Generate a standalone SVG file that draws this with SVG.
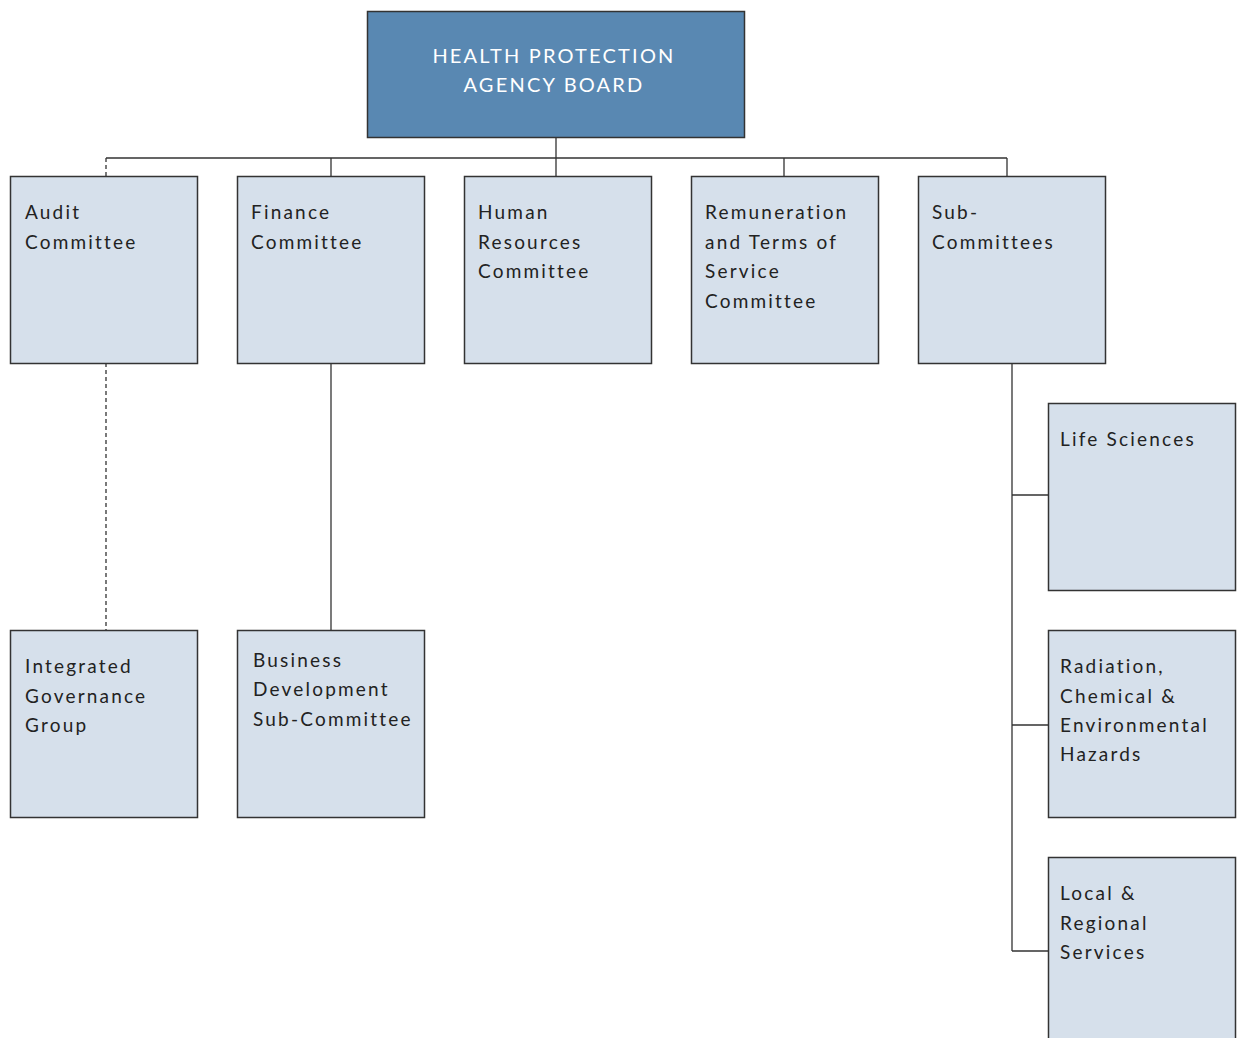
<svg xmlns="http://www.w3.org/2000/svg" width="1238" height="1038" viewBox="0 0 1238 1038">
<style>
.box{fill:#d6e0eb;stroke:#333;stroke-width:1.5}
.top{fill:#5988b2;stroke:#333;stroke-width:1.5}
.t{font-family:Lato,"Open Sans","Liberation Sans",sans-serif;font-size:19px;letter-spacing:2.2px;fill:#222}
.h{font-family:Lato,"Open Sans","Liberation Sans",sans-serif;font-size:20px;letter-spacing:2.2px;fill:#fff;text-anchor:middle}
.c{fill:none;stroke:#333;stroke-width:1.3}
.d{stroke-dasharray:4 3}
</style>
<rect width="1238" height="1038" fill="#fff"/>
<g id="connectors">
<path class="c" d="M106 158H1007M331 158V176M556 138V176M784 158V176M1007 158V176"/>
<path class="c d" d="M106 158V176M106 363V630"/>
<path class="c" d="M331 363V630"/>
<path class="c" d="M1012 363V951M1012 495H1048M1012 725H1048M1012 951H1048"/>
</g>
<g id="board"><rect class="top" x="367.5" y="11.5" width="377" height="126"/>
<text class="h" x="554" y="63">HEALTH PROTECTION</text><text class="h" x="554" y="92">AGENCY BOARD</text></g>
<g id="audit"><rect class="box" x="10.5" y="176.5" width="187" height="187"/>
<text class="t" x="25" y="219">Audit</text><text class="t" x="25" y="249">Committee</text></g>
<g id="finance"><rect class="box" x="237.5" y="176.5" width="187" height="187"/>
<text class="t" x="251" y="219">Finance</text><text class="t" x="251" y="249">Committee</text></g>
<g id="hr"><rect class="box" x="464.5" y="176.5" width="187" height="187"/>
<text class="t" x="478" y="219">Human</text><text class="t" x="478" y="249">Resources</text><text class="t" x="478" y="278">Committee</text></g>
<g id="remuneration"><rect class="box" x="691.5" y="176.5" width="187" height="187"/>
<text class="t" x="705" y="219">Remuneration</text><text class="t" x="705" y="249">and Terms of</text><text class="t" x="705" y="278">Service</text><text class="t" x="705" y="308">Committee</text></g>
<g id="subcommittees"><rect class="box" x="918.5" y="176.5" width="187" height="187"/>
<text class="t" x="932" y="219">Sub-</text><text class="t" x="932" y="249">Committees</text></g>
<g id="igg"><rect class="box" x="10.5" y="630.5" width="187" height="187"/>
<text class="t" x="25" y="673">Integrated</text><text class="t" x="25" y="703">Governance</text><text class="t" x="25" y="732">Group</text></g>
<g id="bdsc"><rect class="box" x="237.5" y="630.5" width="187" height="187"/>
<text class="t" x="253" y="667">Business</text><text class="t" x="253" y="696">Development</text><text class="t" x="253" y="726">Sub-Committee</text></g>
<g id="life"><rect class="box" x="1048.5" y="403.5" width="187" height="187"/>
<text class="t" x="1060" y="446">Life Sciences</text></g>
<g id="radiation"><rect class="box" x="1048.5" y="630.5" width="187" height="187"/>
<text class="t" x="1060" y="673">Radiation,</text><text class="t" x="1060" y="703">Chemical &amp;</text><text class="t" x="1060" y="732">Environmental</text><text class="t" x="1060" y="761">Hazards</text></g>
<g id="local"><rect class="box" x="1048.5" y="857.5" width="187" height="190"/>
<text class="t" x="1060" y="900">Local &amp;</text><text class="t" x="1060" y="930">Regional</text><text class="t" x="1060" y="959">Services</text></g>
</svg>
